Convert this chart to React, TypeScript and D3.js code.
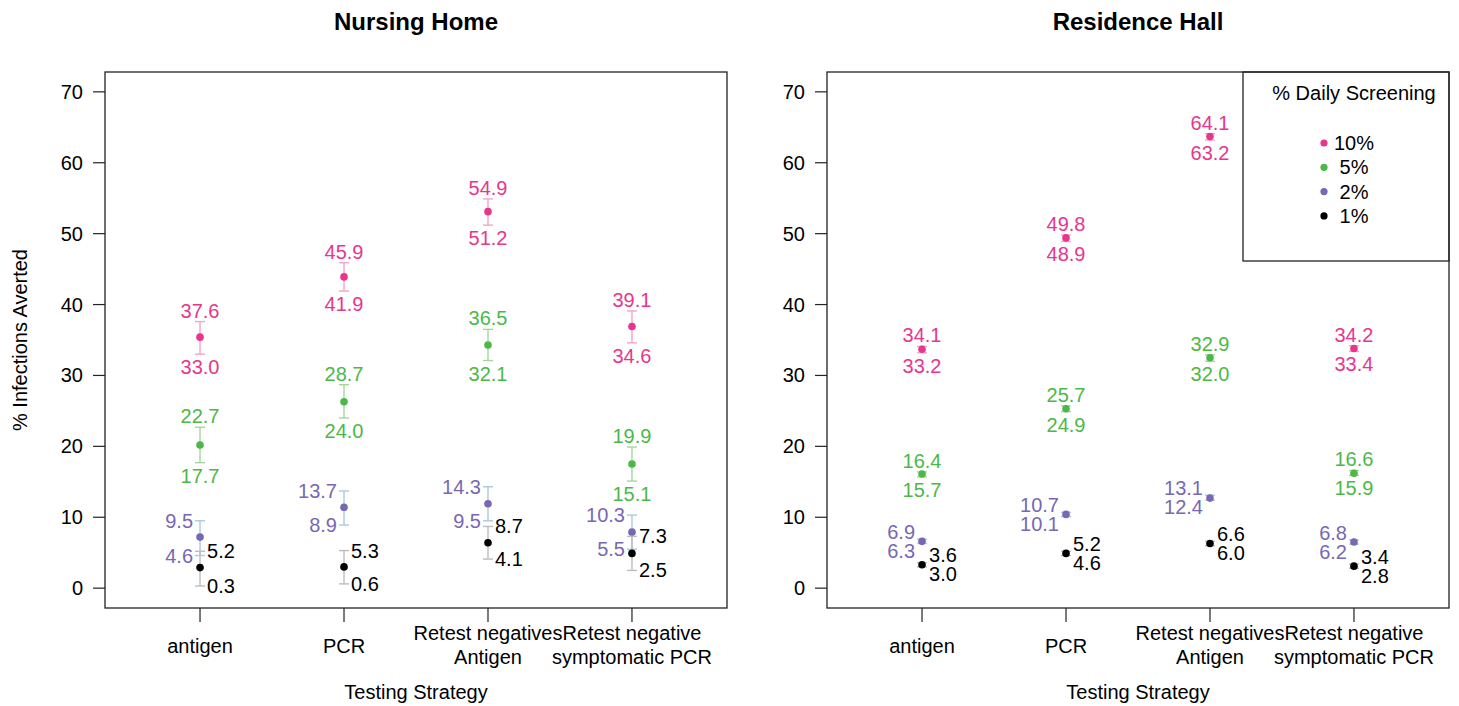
import * as d3 from "d3";

const strategies = ["antigen", "PCR", "Retest negatives\nAntigen", "Retest negative\nsymptomatic PCR"];
const screeningLevels = ["10%", "5%", "2%", "1%"];
const yTickValues = [0, 10, 20, 30, 40, 50, 60, 70];

// rows = screening level (10%, 5%, 2%, 1%), cols = strategy
const nursingMean = [
  [35.4, 43.9, 53.1, 36.9],
  [20.2, 26.3, 34.3, 17.5],
  [7.2, 11.4, 11.9, 7.9],
  [2.9, 3.0, 6.4, 4.9],
];
const nursingLower = [
  [33.0, 41.9, 51.2, 34.6],
  [17.7, 24.0, 32.1, 15.1],
  [4.6, 8.9, 9.5, 5.5],
  [0.3, 0.6, 4.1, 2.5],
];
const nursingUpper = [
  [37.6, 45.9, 54.9, 39.1],
  [22.7, 28.7, 36.5, 19.9],
  [9.5, 13.7, 14.3, 10.3],
  [5.2, 5.3, 8.7, 7.3],
];

const residenceMean = [
  [33.7, 49.4, 63.7, 33.8],
  [16.1, 25.3, 32.5, 16.2],
  [6.6, 10.4, 12.7, 6.5],
  [3.3, 4.9, 6.3, 3.1],
];
const residenceLower = [
  [33.2, 48.9, 63.2, 33.4],
  [15.7, 24.9, 32.0, 15.9],
  [6.3, 10.1, 12.4, 6.2],
  [3.0, 4.6, 6.0, 2.8],
];
const residenceUpper = [
  [34.1, 49.8, 64.1, 34.2],
  [16.4, 25.7, 32.9, 16.6],
  [6.9, 10.7, 13.1, 6.8],
  [3.6, 5.2, 6.6, 3.4],
];

const pointColors = ["#E8368C", "#4DB848", "#7767B5", "#000000"];
const barColors = ["#F3A5C5", "#A5D69C", "#A9CBDD", "#BDBDBD"];
// where the CI labels go for each screening level
const labelSide = ["vertical", "vertical", "left", "right"];

const font = "'Liberation Sans', Arial, Helvetica, sans-serif";
const top = 72;
const bottom = 608;

function Panel({ x0, x1, title, mean, lower, upper, yTitle, legend }) {
  const xScale = d3.scaleLinear().domain([0.34, 4.66]).range([x0, x1]);
  const yScale = d3.scaleLinear().domain([-2.8, 72.8]).range([bottom, top]);
  const cap = 5;

  return (
    <g fontFamily={font}>
      <text x={(x0 + x1) / 2} y={30} textAnchor="middle" fontSize={24} fontWeight="bold">
        {title}
      </text>

      {/* y axis */}
      {yTickValues.map((t) => (
        <g key={t} transform={`translate(${x0}, ${yScale(t)})`}>
          <line x1={-12} x2={0} stroke="#222" strokeWidth={1.2} />
          <text x={-22} dy="0.35em" textAnchor="end" fontSize={20}>
            {t}
          </text>
        </g>
      ))}
      {yTitle && (
        <text
          transform={`translate(20, ${(top + bottom) / 2}) rotate(-90)`}
          textAnchor="middle"
          dy="0.35em"
          fontSize={20}
        >
          {yTitle}
        </text>
      )}

      {/* x axis */}
      {strategies.map((s, i) => {
        const lines = s.split("\n");
        return (
          <g key={s} transform={`translate(${xScale(i + 1)}, ${bottom})`}>
            <line y1={0} y2={14} stroke="#222" strokeWidth={1.2} />
            {lines.map((ln, j) => (
              <text
                key={j}
                y={lines.length === 1 ? 45 : 32 + j * 24}
                textAnchor="middle"
                fontSize={20}
              >
                {ln}
              </text>
            ))}
          </g>
        );
      })}
      <text x={(x0 + x1) / 2} y={699} textAnchor="middle" fontSize={20}>
        Testing Strategy
      </text>

      {/* error bars, points, labels */}
      {screeningLevels.map((lvl, k) =>
        strategies.map((s, i) => {
          const cx = xScale(i + 1);
          const yU = yScale(upper[k][i]);
          const yL = yScale(lower[k][i]);
          const side = labelSide[k];
          let tU = yU;
          let tL = yL;
          if (side !== "vertical" && tL - tU < 19) {
            const mid = (tU + tL) / 2;
            tU = mid - 9.5;
            tL = mid + 9.5;
          }
          return (
            <g key={lvl + s}>
              <g stroke={barColors[k]} strokeWidth={1.4}>
                <line x1={cx} x2={cx} y1={yL} y2={yU} />
                <line x1={cx - cap} x2={cx + cap} y1={yU} y2={yU} />
                <line x1={cx - cap} x2={cx + cap} y1={yL} y2={yL} />
              </g>
              <circle cx={cx} cy={yScale(mean[k][i])} r={3.8} fill={pointColors[k]} />
              {side === "vertical" ? (
                <g fill={pointColors[k]} fontSize={20} textAnchor="middle">
                  <text x={cx} y={yU - 4}>{upper[k][i].toFixed(1)}</text>
                  <text x={cx} y={yL + 20}>{lower[k][i].toFixed(1)}</text>
                </g>
              ) : (
                <g
                  fill={pointColors[k]}
                  fontSize={20}
                  textAnchor={side === "left" ? "end" : "start"}
                >
                  <text x={side === "left" ? cx - 7 : cx + 7} y={tU} dy="0.35em">
                    {upper[k][i].toFixed(1)}
                  </text>
                  <text x={side === "left" ? cx - 7 : cx + 7} y={tL} dy="0.35em">
                    {lower[k][i].toFixed(1)}
                  </text>
                </g>
              )}
            </g>
          );
        })
      )}

      {legend && (
        <g>
          <rect x={1243} y={top} width={x1 - 1243} height={189} fill="white" stroke="#222" strokeWidth={1.3} />
          <text x={1354} y={93} dy="0.35em" textAnchor="middle" fontSize={20}>
            % Daily Screening
          </text>
          {screeningLevels.map((lvl, k) => (
            <g key={lvl} transform={`translate(0, ${143 + k * 24.3})`}>
              <circle cx={1324} cy={0} r={3.6} fill={pointColors[k]} />
              <text x={1354} dy="0.35em" textAnchor="middle" fontSize={20}>
                {lvl}
              </text>
            </g>
          ))}
        </g>
      )}

      <rect x={x0} y={top} width={x1 - x0} height={bottom - top} fill="none" stroke="#222" strokeWidth={1.3} />
    </g>
  );
}

export default function App() {
  return (
    <svg
      width={1459}
      height={706}
      style={{ position: "absolute", left: 0, top: 0, background: "white" }}
    >
      <Panel
        x0={105}
        x1={727}
        title="Nursing Home"
        mean={nursingMean}
        lower={nursingLower}
        upper={nursingUpper}
        yTitle="% Infections Averted"
        legend={false}
      />
      <Panel
        x0={827}
        x1={1449}
        title="Residence Hall"
        mean={residenceMean}
        lower={residenceLower}
        upper={residenceUpper}
        yTitle={null}
        legend={true}
      />
    </svg>
  );
}
